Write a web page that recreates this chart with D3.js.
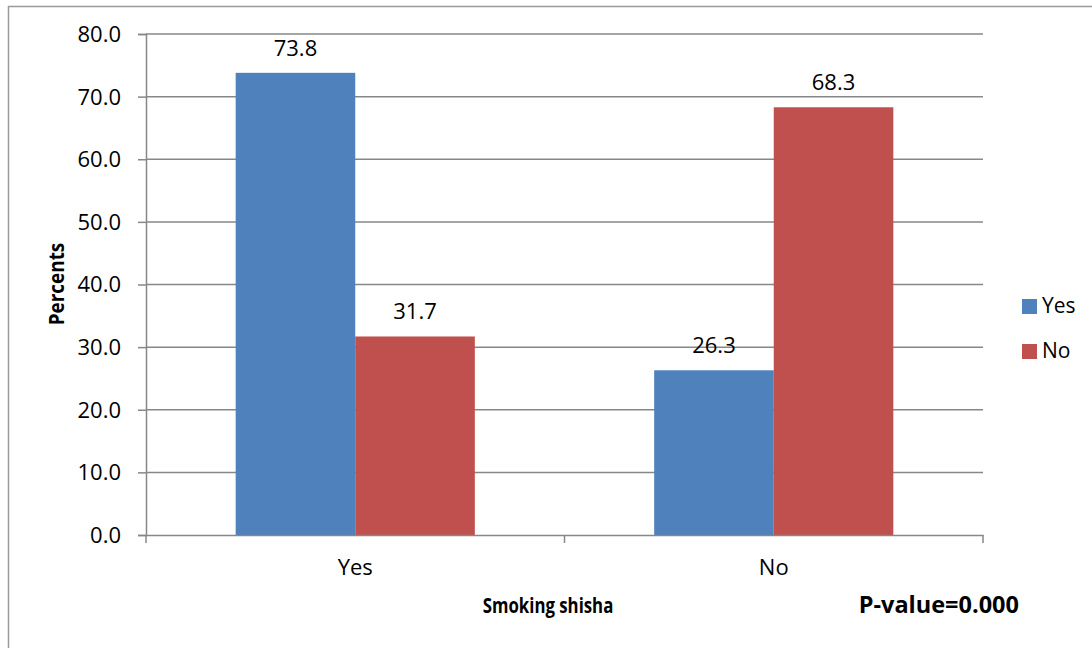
<!DOCTYPE html>
<html>
<head>
<meta charset="utf-8">
<script src="https://cdn.jsdelivr.net/npm/d3@7"></script>
<style>
  html, body { margin: 0; padding: 0; background: #fff; }
  svg { display: block; }
  text { font-family: "Open Sans", "Noto Sans", sans-serif; fill: #000; }
</style>
</head>
<body>
<svg id="chart" width="1092" height="648"></svg>
<script>
// Smoking shisha (Yes / No) broken down by series Yes / No, in percent
const categories = ["Yes", "No"];
const seriesNames = ["Yes", "No"];
const seriesYes = [73.8, 26.3];
const seriesNo = [31.7, 68.3];
const yTicks = [0, 10, 20, 30, 40, 50, 60, 70, 80];
const colors = ["#4F81BD", "#C0504D"];

const svg = d3.select("#chart");
const W = 1092, H = 648;
const plot = { left: 146, right: 983, top: 34, bottom: 535 };

// outer frame (top and left edges visible)
svg.append("line").attr("x1", 8).attr("x2", W).attr("y1", 6.5).attr("y2", 6.5)
  .attr("stroke", "#9a9a9a").attr("stroke-width", 1.5);
svg.append("line").attr("x1", 8.5).attr("x2", 8.5).attr("y1", 6).attr("y2", H)
  .attr("stroke", "#9a9a9a").attr("stroke-width", 1.5);

const x0 = d3.scaleBand().domain(categories).range([plot.left, plot.right]).paddingInner(0).paddingOuter(0);
const x1 = d3.scaleBand().domain(seriesNames).range([0, x0.bandwidth() * 2 / 3.5]);
const y = d3.scaleLinear().domain([0, 80]).range([plot.bottom, plot.top]);

const gridColor = "#878787";

// horizontal gridlines
svg.append("g").selectAll("line").data(yTicks.filter(d => d > 0)).join("line")
  .attr("x1", plot.left).attr("x2", plot.right)
  .attr("y1", d => y(d)).attr("y2", d => y(d))
  .attr("stroke", gridColor).attr("stroke-width", 1.5);

// y axis
const yAxis = d3.axisLeft(y).tickValues(yTicks).tickFormat(d3.format(".1f")).tickSizeOuter(0).tickSize(8).tickPadding(17);
const gy = svg.append("g").attr("transform", `translate(${plot.left},0)`).call(yAxis);
gy.select(".domain").attr("stroke", gridColor).attr("stroke-width", 1.5);
gy.selectAll(".tick line").attr("stroke", gridColor).attr("stroke-width", 1.5);
gy.selectAll(".tick text").style("font-size", "22px").style("font-family", "'Open Sans', sans-serif").attr("fill", "#000").attr("dy", "0.34em");

// bars
const rows = categories.map((c, i) => ({ cat: c, values: [seriesYes[i], seriesNo[i]] }));
const gap = (x0.bandwidth() - x1.range()[1]) / 2;
const groups = svg.append("g").selectAll("g").data(rows).join("g")
  .attr("transform", d => `translate(${x0(d.cat) + gap},0)`);

groups.selectAll("rect").data(d => d.values.map((v, j) => ({ s: seriesNames[j], v, j }))).join("rect")
  .attr("x", d => x1(d.s))
  .attr("width", x1.bandwidth())
  .attr("y", d => y(d.v))
  .attr("height", d => y(0) - y(d.v))
  .attr("fill", d => colors[d.j]);

// data labels
groups.selectAll("text").data(d => d.values.map((v, j) => ({ s: seriesNames[j], v, j }))).join("text")
  .attr("x", d => x1(d.s) + x1.bandwidth() / 2)
  .attr("y", d => y(d.v) - 17)
  .attr("text-anchor", "middle")
  .style("font-size", "22px")
  .text(d => d.v.toFixed(1));

// x axis
const xAxis = d3.axisBottom(x0).tickSize(0).tickPadding(0).tickSizeOuter(0);
const gx = svg.append("g").attr("transform", `translate(0,${plot.bottom})`).call(xAxis);
gx.select(".domain").attr("stroke", gridColor).attr("stroke-width", 1.5);
gx.selectAll(".tick text").style("font-size", "22px").style("font-family", "'Open Sans', sans-serif")
  .attr("fill", "#000").attr("y", 40).attr("dy", 0);
// category boundary tick marks
const bounds = [plot.left, ...categories.map(c => x0(c) + x0.bandwidth())];
gx.selectAll("line.bound").data(bounds).join("line").attr("class", "bound")
  .attr("x1", d => d).attr("x2", d => d).attr("y1", 0).attr("y2", 8)
  .attr("stroke", gridColor).attr("stroke-width", 1.5);

// axis titles (condensed bold)
svg.append("text").attr("transform", "translate(548,613) scale(0.8,1)").attr("text-anchor", "middle")
  .style("font-size", "21px").style("font-weight", "bold").text("Smoking shisha");
svg.append("text").attr("x", 1019).attr("y", 613).attr("text-anchor", "end")
  .style("font-size", "23.5px").style("font-weight", "bold").text("P-value=0.000");
svg.append("text").attr("transform", "translate(64,284) rotate(-90) scale(0.9,1)").attr("text-anchor", "middle")
  .style("font-size", "21px").style("font-weight", "bold").text("Percents");

// legend
const legend = svg.append("g").selectAll("g").data(seriesNames).join("g")
  .attr("transform", (d, i) => `translate(1022,${299 + i * 45})`);
legend.append("rect").attr("width", 15).attr("height", 15).attr("fill", (d, i) => colors[i]);
legend.append("text").attr("x", 20).attr("y", 14).style("font-size", "21px").text(d => d);
</script>
</body>
</html>
